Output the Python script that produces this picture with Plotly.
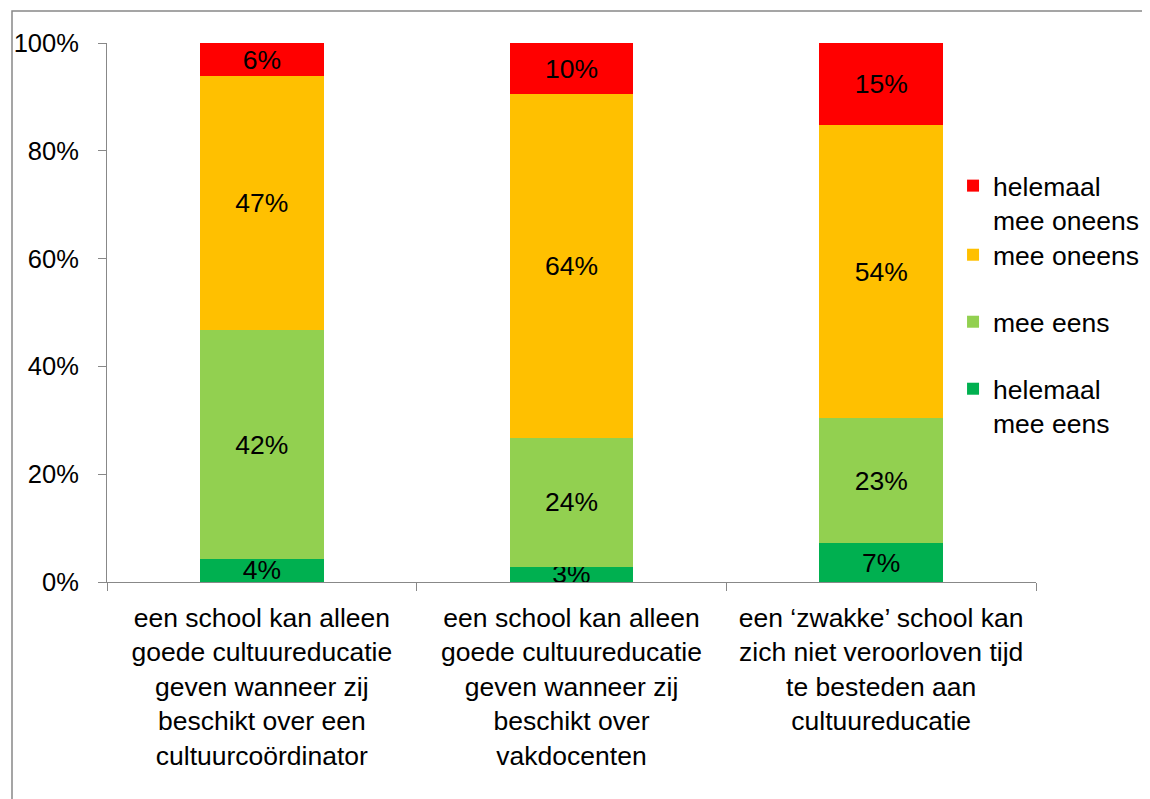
import plotly.graph_objects as go

categories = [
    "een school kan alleen<br>goede cultuureducatie<br>geven wanneer zij<br>beschikt over een<br>cultuurcoördinator",
    "een school kan alleen<br>goede cultuureducatie<br>geven wanneer zij<br>beschikt over<br>vakdocenten",
    "een ‘zwakke’ school kan<br>zich niet veroorloven tijd<br>te besteden aan<br>cultuureducatie",
]
helemaal_mee_eens = [4.3, 2.8, 7.2]
mee_eens = [42.4, 24.0, 23.2]
mee_oneens = [47.1, 63.7, 54.4]
helemaal_mee_oneens = [6.2, 9.5, 15.2]

series_names = ["helemaal<br>mee eens", "mee eens", "mee oneens", "helemaal<br>mee oneens"]
series_values = [helemaal_mee_eens, mee_eens, mee_oneens, helemaal_mee_oneens]
series_colors = ["#00B050", "#92D050", "#FFC000", "#FF0000"]
legend_ids = ["legend4", "legend3", "legend2", "legend"]
legend_y = [0.4026, 0.5269, 0.6512, 0.7794]

FONT = "Liberation Sans, Arial, sans-serif"
FS = 26.5

fig = go.Figure()
for name, vals, col, lid in zip(series_names, series_values, series_colors, legend_ids):
    fig.add_trace(go.Bar(
        x=categories, y=vals, name=name, marker_color=col,
        marker_line_width=0,
        text=[f"{v:.0f}%" for v in vals],
        textposition="inside", insidetextanchor="middle",
        textfont=dict(color="black", size=FS, family=FONT),
        cliponaxis=False, legend=lid, showlegend=True,
    ))

legend_common = dict(x=0.9107, xanchor="left", yanchor="top", bgcolor="rgba(0,0,0,0)",
                      font=dict(size=FS, family=FONT, color="black"), valign="top")
layout_legends = {}
for lid, ly in zip(legend_ids, legend_y):
    layout_legends[lid] = dict(legend_common, y=ly)

fig.update_layout(
    width=1142, height=791,
    showlegend=True,
    barmode="stack", bargap=0.6,
    plot_bgcolor="white", paper_bgcolor="white",
    font=dict(family=FONT, size=FS, color="black"),
    margin=dict(l=99, r=114, t=35, b=217, autoexpand=False),
    uniformtext=dict(minsize=FS, mode="show"),
    xaxis=dict(showline=True, linecolor="#888888", linewidth=1, ticks="outside",
               tickson="boundaries", ticklen=8, tickcolor="#888888",
               ticklabelstandoff=12,
               tickfont=dict(size=FS, family=FONT, color="black"), showgrid=False),
    yaxis=dict(range=[0, 100], dtick=20, ticksuffix="%", showline=True,
               linecolor="#888888", linewidth=1, ticks="outside", ticklen=8,
               tickcolor="#888888", showgrid=False, zeroline=False,
               ticklabelstandoff=14,
               tickfont=dict(size=25.5, family=FONT, color="black")),
    shapes=[dict(type="rect", xref="paper", yref="paper",
                 x0=-95 / 929, x1=1.2, y0=-0.5, y1=571 / 539,
                 line=dict(color="#888888", width=1.5), fillcolor="rgba(0,0,0,0)",
                 layer="below")],
    **layout_legends,
)

fig.write_html("out.html")
